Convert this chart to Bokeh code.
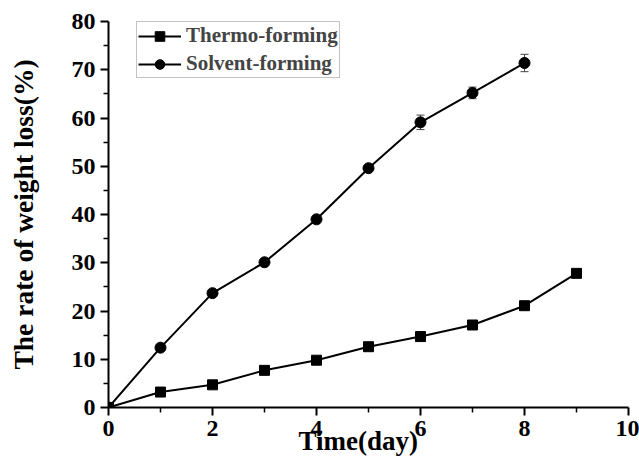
from bokeh.plotting import figure
from bokeh.models import Range1d, Legend, LegendItem, Whisker, ColumnDataSource, FixedTicker, TeeHead, Title
from bokeh.embed import file_html
from bokeh.resources import INLINE

# Data
days_thermo = [0, 1, 2, 3, 4, 5, 6, 7, 8, 9]
thermo = [0, 3.2, 4.7, 7.7, 9.8, 12.6, 14.7, 17.1, 21.1, 27.8]
days_solvent = [0, 1, 2, 3, 4, 5, 6, 7, 8]
solvent = [0, 12.4, 23.7, 30.1, 39.0, 49.6, 59.1, 65.2, 71.4]
solvent_err = [0, 0, 0, 0, 0, 0, 1.5, 1.2, 1.8]

x_ticks = [0, 2, 4, 6, 8, 10]
y_ticks = [0, 10, 20, 30, 40, 50, 60, 70, 80]

FONT = "Liberation Serif"

p = figure(width=639, height=457, output_backend="svg", toolbar_location=None,
           x_range=Range1d(0, 10), y_range=Range1d(0, 80),
           min_border_left=108, min_border_right=11, min_border_top=21, min_border_bottom=50)
p.outline_line_color = None
p.xgrid.visible = False
p.ygrid.visible = False
p.background_fill_color = "white"
p.border_fill_color = "white"

for ax in (p.xaxis[0], p.yaxis[0]):
    ax.axis_line_width = 2
    ax.axis_line_color = "black"
    ax.major_tick_line_width = 2
    ax.minor_tick_line_width = 1.5
    ax.major_tick_out = 8
    ax.major_tick_in = 0
    ax.minor_tick_out = 5
    ax.minor_tick_in = 0
    ax.major_label_text_font = FONT
    ax.major_label_text_font_style = "bold"
    ax.major_label_text_font_size = "24px"
    ax.major_label_text_color = "black"
    ax.major_label_standoff = 5

p.xaxis[0].ticker = FixedTicker(ticks=x_ticks, minor_ticks=[1, 3, 5, 7, 9])
p.yaxis[0].ticker = FixedTicker(ticks=y_ticks, minor_ticks=[5, 15, 25, 35, 45, 55, 65, 75])

p.yaxis[0].axis_label = "The rate of weight loss(%)"
p.yaxis[0].axis_label_standoff = 30
p.yaxis[0].axis_label_text_font = FONT
p.yaxis[0].axis_label_text_font_style = "bold"
p.yaxis[0].axis_label_text_font_size = "27.5px"
p.yaxis[0].axis_label_text_color = "black"

p.add_layout(Title(text="Time(day)", align="left", offset=190, standoff=-29,
                   text_font=FONT, text_font_style="bold", text_font_size="27px",
                   text_color="black"), "below")

# Error bars
idx = [i for i, e in enumerate(solvent_err) if e > 0]
err_src = ColumnDataSource(dict(
    x=[days_solvent[i] for i in idx],
    upper=[solvent[i] + solvent_err[i] for i in idx],
    lower=[solvent[i] - solvent_err[i] for i in idx]))
w = Whisker(source=err_src, base="x", upper="upper", lower="lower", dimension="height",
            line_color="#444444", line_width=1,
            upper_head=TeeHead(size=8, line_color="#444444", line_width=1),
            lower_head=TeeHead(size=8, line_color="#444444", line_width=1))
p.add_layout(w)

l1 = p.line(days_thermo, thermo, line_color="black", line_width=2)
m1 = p.scatter(days_thermo, thermo, marker="square", size=10, fill_color="black", line_color="black")
l2 = p.line(days_solvent, solvent, line_color="black", line_width=2)
m2 = p.scatter(days_solvent, solvent, marker="circle", size=11, fill_color="black", line_color="black")

legend = Legend(items=[LegendItem(label="Thermo-forming", renderers=[l1, m1]),
                       LegendItem(label="Solvent-forming", renderers=[l2, m2])],
                location=(28, 329), label_text_font=FONT, label_text_font_style="bold",
                label_text_font_size="21px", glyph_width=43, glyph_height=24, label_height=24,
                spacing=3, padding=1, margin=0, label_standoff=5,
                border_line_color="#888888", border_line_width=1, background_fill_alpha=1)
p.add_layout(legend)

open("out.html", "w").write(file_html(p, INLINE))
